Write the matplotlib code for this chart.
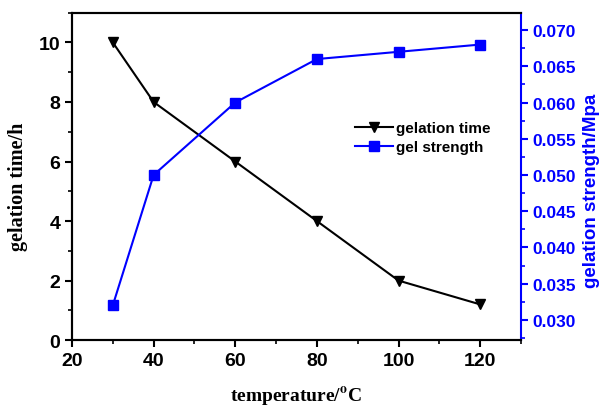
import matplotlib
matplotlib.use("Agg")
import matplotlib.pyplot as plt
from matplotlib.ticker import MultipleLocator

temperature = [30, 40, 60, 80, 100, 120]
gelation_time = [10, 8, 6, 4, 2, 1.2]
gel_strength = [0.032, 0.050, 0.060, 0.066, 0.067, 0.068]

plt.rcParams["mathtext.fontset"] = "stix"

fig = plt.figure(figsize=(6.02, 4.10), dpi=100)
ax = fig.add_axes([0.1196, 0.168, 0.7458, 0.7986])
ax2 = ax.twinx()

l1, = ax.plot(temperature, gelation_time, color="black", marker="v", markersize=7,
              linewidth=1.5, label="gelation time")
l2, = ax2.plot(temperature, gel_strength, color="blue", marker="s", markersize=6.5,
               linewidth=1.5, label="gel strength")

ax.set_xlim(20, 130)
ax.set_ylim(0, 11)
ax2.set_ylim(0.0272, 0.0724)

ax.xaxis.set_major_locator(MultipleLocator(20))
ax.xaxis.set_minor_locator(MultipleLocator(10))
ax.yaxis.set_major_locator(MultipleLocator(2))
ax.yaxis.set_minor_locator(MultipleLocator(1))
ax2.yaxis.set_minor_locator(MultipleLocator(0.0025))
ax2.set_yticks([0.030, 0.035, 0.040, 0.045, 0.050, 0.055, 0.060, 0.065, 0.070])
ax2.set_yticklabels(["%.3f" % v for v in ax2.get_yticks()])

sans = "Liberation Sans"
serif = "Liberation Serif"

for lab in ax.get_xticklabels() + ax.get_yticklabels():
    lab.set_fontfamily(sans)
    lab.set_fontweight("bold")
    lab.set_fontsize(14)
for lab in ax2.get_yticklabels():
    lab.set_fontfamily(sans)
    lab.set_fontweight("bold")
    lab.set_fontsize(12.5)
    lab.set_color("blue")

ax.tick_params(which="major", direction="out", length=5, width=1.5)
ax.tick_params(which="minor", direction="out", length=3, width=1.2)
ax2.tick_params(which="major", direction="out", length=5, width=1.5, color="blue")
ax2.tick_params(which="minor", direction="out", length=3, width=1.2, color="blue")

for s in ["left", "bottom", "top"]:
    ax.spines[s].set_linewidth(1.5)
    ax2.spines[s].set_linewidth(1.5)
ax2.spines["right"].set_color("blue")
ax2.spines["right"].set_linewidth(1.5)
ax.spines["right"].set_visible(False)

ax.set_xlabel(r"temperature/$^{\mathbf{o}}$C", fontfamily=serif, fontweight="bold",
              fontsize=14, labelpad=11)
ax.set_ylabel("gelation time/h", fontfamily=serif, fontweight="bold", fontsize=14.5)
ax.yaxis.set_label_coords(-0.098, 0.47)
ax2.set_ylabel("gelation strength/Mpa", fontfamily=sans, fontweight="bold",
               fontsize=13.5, color="blue")
ax2.yaxis.set_label_coords(1.138, 0.46)

ax2.legend([l1, l2], ["gelation time", "gel strength"], loc="upper left",
           bbox_to_anchor=(0.6, 0.71), frameon=False, handlelength=2.5,
           handletextpad=0.2, labelspacing=0.3,
           prop={"family": sans, "weight": "bold", "size": 11})

fig.savefig("out.png", dpi=100)
